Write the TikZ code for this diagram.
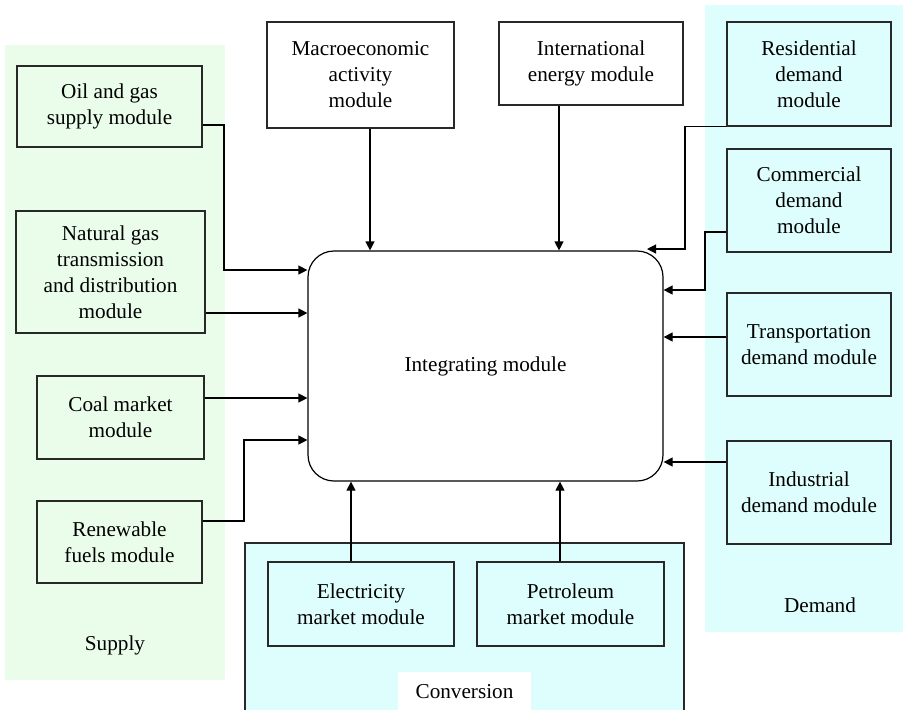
\documentclass[tikz,border=0pt]{standalone}
\usepackage{fontspec}
\setmainfont{Liberation Serif}
\usetikzlibrary{arrows.meta}
\definecolor{supplygreen}{RGB}{234,253,234}
\definecolor{democyan}{RGB}{222,254,254}
\definecolor{edgegray}{RGB}{40,40,40}
\begin{document}
\begin{tikzpicture}[x=0.5pt,y=-0.5pt,
  every node/.style={font=\fontsize{10.6}{13}\selectfont, align=center, inner sep=0pt},
  mod/.style 2 args={draw=edgegray, line width=0.6pt, minimum width=#1*0.5pt, minimum height=#2*0.5pt},
  arr/.style={-{Triangle[length=4.5pt,width=4.5pt]}, line width=0.6pt, draw=black}]
\useasboundingbox (0,0) rectangle (903,709);
\clip (0,0) rectangle (903,709);

% group backgrounds
\fill[supplygreen] (5,45) rectangle (225,680);
\fill[democyan] (705,5) rectangle (903,632);
\filldraw[fill=democyan, draw=edgegray, line width=0.6pt] (245,543) rectangle (684,720);

% group labels
\node (supplylbl) at (115,645) {Supply};
\node (demandlbl) at (820,605) {Demand};
\node[fill=white, minimum width=66.5pt, minimum height=20pt] (convlbl) at (464.5,692) {Conversion};

% central module
\node[draw=black, line width=0.6pt, rounded corners=13pt, minimum width=177.5pt, minimum height=115pt] (integ) at (485.5,366) {Integrating module};

% supply modules
\node[mod={185}{81}] (oil) at (109.5,106.5) {Oil and gas\\supply module};
\node[mod={189}{122}] (ng) at (110.5,272) {Natural gas\\transmission\\and distribution\\module};
\node[mod={167}{83}] (coal) at (120.5,417.5) {Coal market\\module};
\node[mod={165}{82}] (ren) at (119.5,542) {Renewable\\fuels module};

% top modules
\node[mod={187}{106}, fill=white] (macro) at (360.5,75) {Macroeconomic\\activity\\module};
\node[mod={184}{83}, fill=white] (intl) at (591,63.5) {International\\energy module};

% demand modules
\node[mod={164}{104}] (res) at (809,74) {Residential\\demand\\module};
\node[mod={164}{103}] (com) at (809,200.5) {Commercial\\demand\\module};
\node[mod={164}{103}] (tra) at (809,344.5) {Transportation\\demand module};
\node[mod={164}{103}] (ind) at (809,492.5) {Industrial\\demand module};

% conversion modules
\node[mod={186}{84}] (elec) at (361,604) {Electricity\\market module};
\node[mod={187}{84}] (pet) at (570.5,604) {Petroleum\\market module};

% connectors from supply
\draw[arr] (oil.east |- 0,125) -| (224,270) -- (integ.west |- 0,270);
\draw[arr] (ng.east |- 0,313) -- (integ.west |- 0,313);
\draw[arr] (coal.east |- 0,398) -- (integ.west |- 0,398);
\draw[arr] (ren.east |- 0,521) -| (244,440) -- (integ.west |- 0,440);

% connectors from the top
\draw[arr] (macro.south -| 370,0) -- (integ.north -| 370,0);
\draw[arr] (intl.south -| 559,0) -- (integ.north -| 559,0);

% connectors from demand
\coordinate (rescorner) at (647,249);
\draw[arr] (res.south west) -| (685,249) -- (rescorner);
\draw[arr] (com.west |- 0,232) -| (705,290) -- (integ.east |- 0,290);
\draw[arr] (tra.west |- 0,337) -- (integ.east |- 0,337);
\draw[arr] (ind.west |- 0,462) -- (integ.east |- 0,462);

% connectors from conversion
\draw[arr] (elec.north -| 351,0) -- (integ.south -| 351,0);
\draw[arr] (pet.north -| 560,0) -- (integ.south -| 560,0);
\end{tikzpicture}
\end{document}
